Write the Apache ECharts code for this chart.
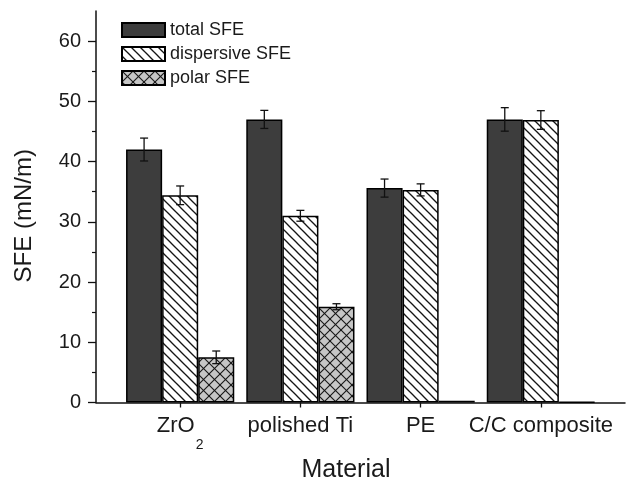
<!DOCTYPE html>
<html><head><meta charset="utf-8">
<script src="https://cdn.jsdelivr.net/npm/echarts@6/dist/echarts.min.js"></script>
<style>html,body{margin:0;padding:0;background:#fff}#c{width:632px;height:478px}</style>
</head><body><div id="c"></div>
<script>
const categories = ['ZrO2', 'polished Ti', 'PE', 'C/C composite'];
const categoryPositions = [1, 2, 3, 4];
const seriesNames = ['total SFE', 'dispersive SFE', 'polar SFE'];
const totalSFE = [42.0, 47.0, 35.6, 47.0];
const totalErr = [1.9, 1.5, 1.5, 1.95];
const dispersiveSFE = [34.4, 31.0, 35.3, 46.9];
const dispersiveErr = [1.55, 0.9, 1.0, 1.55];
const polarSFE = [7.5, 15.9, 0.3, 0.1];
const polarErr = [1.05, 0.5, 0, 0];
const yMajorTicks = [0, 10, 20, 30, 40, 50, 60];
const yMinorTicks = [5, 15, 25, 35, 45, 55];

const FONT = 'Liberation Sans, Arial, Helvetica, sans-serif';
const BAR_FRAC = 0.3;

function hatch(size, bg, dirs, lw) {
  const c = document.createElement('canvas');
  c.width = size; c.height = size;
  const g = c.getContext('2d');
  g.fillStyle = bg; g.fillRect(0, 0, size, size);
  g.strokeStyle = '#151515'; g.lineWidth = lw;
  dirs.forEach(d => {
    for (let k = -1; k <= 1; k++) {
      g.beginPath();
      if (d === '\\') { g.moveTo(k * size - 2, -2); g.lineTo(k * size + size + 2, size + 2); }
      else { g.moveTo(k * size - 2, size + 2); g.lineTo(k * size + size + 2, -2); }
      g.stroke();
    }
  });
  return { image: c, repeat: 'repeat' };
}

const fills = ['#3d3d3d', hatch(9, '#ffffff', ['\\'], 1.3), hatch(11, '#c6c6c6', ['\\', '/'], 1.1)];
const values = [totalSFE, dispersiveSFE, polarSFE];
const errors = [totalErr, dispersiveErr, polarErr];

function labelFor(v) {
  const i = categoryPositions.indexOf(Math.round(v));
  if (i < 0) return '';
  const name = categories[i];
  if (name === 'ZrO2') return '{a|ZrO}{sub|2}';
  return '{a|' + name + '}';
}

const barSeries = seriesNames.map((name, s) => ({
  name, type: 'bar',
  data: values[s].map((v, i) => [categoryPositions[i], v]),
  barWidth: (BAR_FRAC * 100) + '%', barGap: '0%',
  itemStyle: { color: fills[s], borderColor: '#000', borderWidth: 1.5 },
  emphasis: { disabled: true }, silent: true
}));

const errSeries = seriesNames.map((name, s) => ({
  type: 'custom', silent: true, z: 10,
  data: values[s].map((v, i) => [categoryPositions[i], v, errors[s][i]]),
  encode: { x: 0, y: 1 },
  renderItem(params, api) {
    const err = api.value(2);
    if (!err) return null;
    const unit = api.size([1, 0])[0];
    const dx = (s - 1) * unit * BAR_FRAC;
    const top = api.coord([api.value(0), api.value(1) + err]);
    const bot = api.coord([api.value(0), api.value(1) - err]);
    const x = top[0] + dx, hw = 4;
    const st = { stroke: '#111', lineWidth: 1.3 };
    return { type: 'group', children: [
      { type: 'line', shape: { x1: x, y1: top[1], x2: x, y2: bot[1] }, style: st },
      { type: 'line', shape: { x1: x - hw, y1: top[1], x2: x + hw, y2: top[1] }, style: st },
      { type: 'line', shape: { x1: x - hw, y1: bot[1], x2: x + hw, y2: bot[1] }, style: st }
    ]};
  }
}));

const chart = echarts.init(document.getElementById('c'), null, { renderer: 'canvas' });
chart.setOption({
  animation: false,
  backgroundColor: '#fff',
  textStyle: { fontFamily: FONT },
  grid: { left: 96, right: 7, top: 11, bottom: 75.5, containLabel: false, outerBoundsMode: 'none' },
  legend: {
    data: seriesNames, orient: 'vertical', left: 121, top: 21, padding: 0,
    icon: 'rect', itemWidth: 43, itemHeight: 14, itemGap: 6,
    selectedMode: false,
    textStyle: { fontSize: 18, color: '#1a1a1a', fontFamily: FONT }
  },
  xAxis: {
    type: 'value', min: 0.3, max: 4.7,
    name: 'Material', nameLocation: 'middle', nameGap: 46,
    nameTextStyle: { fontSize: 25, color: '#1a1a1a', fontFamily: FONT, padding: [0, 29, 0, 0] },
    axisLine: { show: true, lineStyle: { color: '#111', width: 1.5 } },
    axisTick: { show: true, inside: false, length: 5, customValues: categoryPositions, lineStyle: { color: '#111', width: 1.3 } },
    axisLabel: {
      customValues: categoryPositions, formatter: labelFor, margin: 12, color: '#1a1a1a',
      rich: {
        a: { fontSize: 22, fontFamily: FONT, color: '#1a1a1a', verticalAlign: 'top', lineHeight: 24 },
        sub: { fontSize: 14, fontFamily: FONT, color: '#1a1a1a', verticalAlign: 'bottom', lineHeight: 38, padding: [0, 0, 0, 1] }
      }
    },
    splitLine: { show: false }
  },
  yAxis: [{
    type: 'value', min: 0, max: 65, position: 'left',
    name: 'SFE (mN/m)', nameLocation: 'middle', nameGap: 60, nameRotate: 90,
    nameTextStyle: { fontSize: 24, color: '#1a1a1a', fontFamily: FONT, padding: [0, 18, 0, 0] },
    axisLine: { show: true, lineStyle: { color: '#111', width: 1.5 } },
    axisTick: { show: true, inside: false, length: 8, customValues: yMajorTicks, lineStyle: { color: '#111', width: 1.3 } },
    axisLabel: { customValues: yMajorTicks, margin: 15, fontSize: 20, color: '#1a1a1a', fontFamily: FONT },
    splitLine: { show: false }
  }, {
    type: 'value', min: 0, max: 65, position: 'left', offset: 0,
    axisLine: { show: false },
    axisTick: { show: true, inside: false, length: 4, customValues: yMinorTicks, lineStyle: { color: '#111', width: 1.2 } },
    axisLabel: { show: false },
    splitLine: { show: false }
  }],
  series: [...barSeries, ...errSeries]
});
</script>
</body></html>
